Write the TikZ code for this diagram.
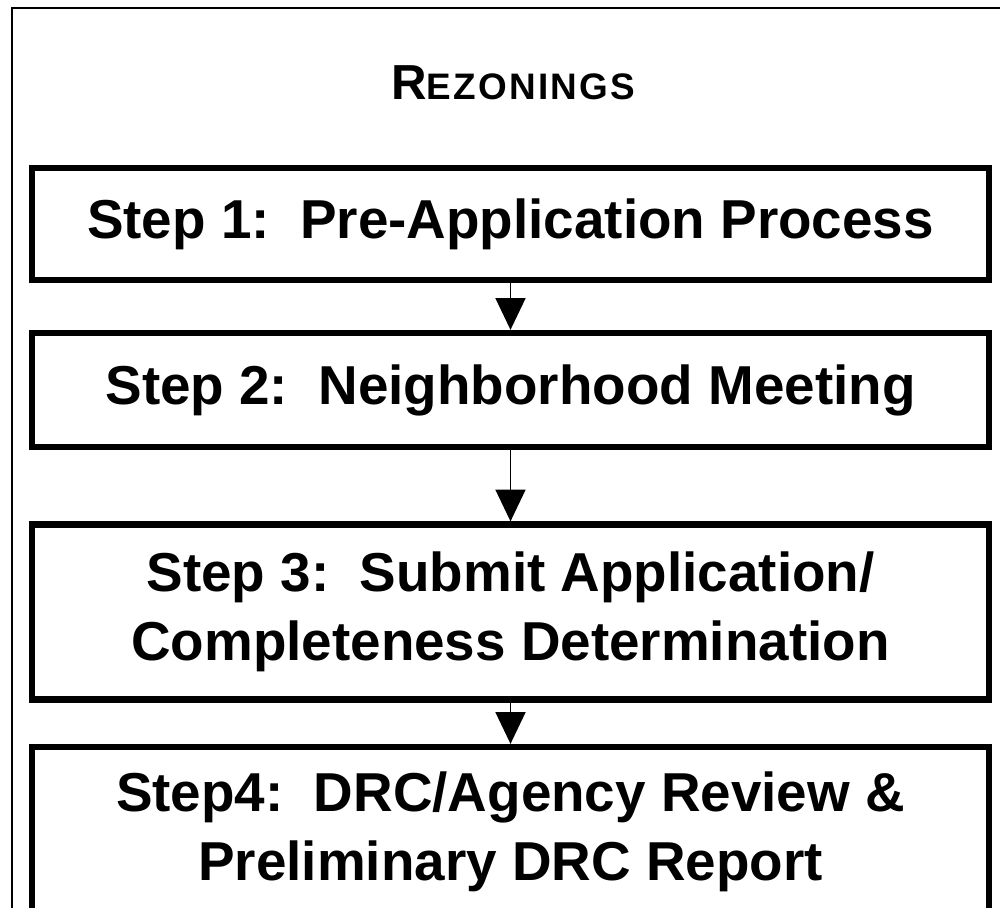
\documentclass[tikz,border=0pt]{standalone}
\usepackage{fontspec}
\setmainfont{Liberation Sans}
\usetikzlibrary{positioning,arrows.meta}

\begin{document}
\begin{tikzpicture}[x=0.02cm, y=-0.02cm,
        stepbox/.style={rectangle, draw=black, line width=3.6pt, minimum width=19.14cm, inner sep=0pt, align=center, font=\fontsize{31.2}{39.5}\selectfont\bfseries},
        flow/.style={-{Triangle[width=17pt, length=18pt]}, line width=0.9pt}
      ]
        \useasboundingbox (0,0) rectangle (1000,907);
        \clip (0,0) rectangle (1000,907);
        \draw[line width=1.3pt] (12,960) |- (1040,8);
        \node (title) at (513,83) {\bfseries\addfontfeature{LetterSpace=6}\fontsize{28}{28}\selectfont R\fontsize{21}{21}\selectfont EZONINGS};

        \node[stepbox, minimum height=2.24cm] (step1) at (510.5,224) {Step 1:\ \ Pre-Application Process};
        \node[stepbox, minimum height=2.28cm] (step2) at (510.5,390) {Step 2:\ \ Neighborhood Meeting};
        \node[stepbox, minimum height=3.5cm]  (step3) at (510.5,612) {Step 3:\ \ Submit Application/\\Completeness Determination};
        \node[stepbox, minimum height=3.4cm]  (step4) at (510.5,832) {Step4:\ \ DRC/Agency Review \&\\Preliminary DRC Report};

        \draw[flow] (step1) -- (step2);
        \draw[flow] (step2) -- (step3);
        \draw[flow] (step3) -- (step4);
      \end{tikzpicture}
\end{document}
